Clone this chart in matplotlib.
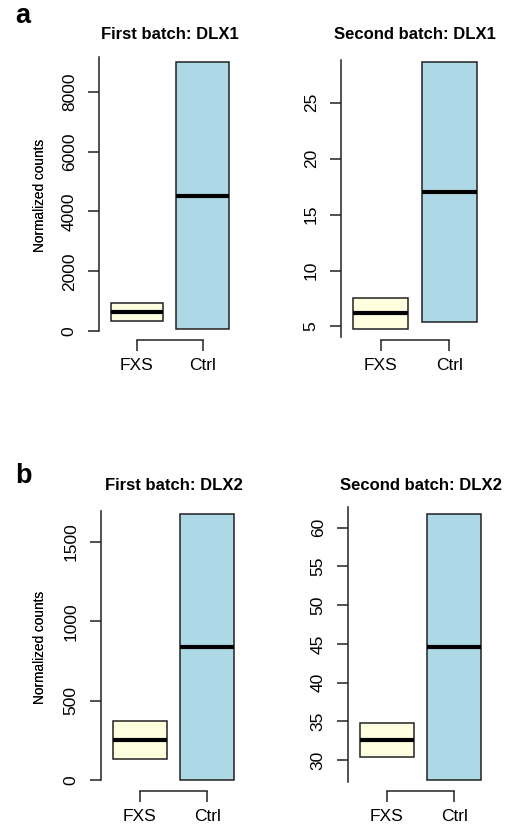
import matplotlib
matplotlib.use('Agg')
import matplotlib.pyplot as plt
from matplotlib.patches import Rectangle

plt.rcParams['font.family'] = ['Liberation Sans', 'DejaVu Sans']

groups = ['FXS', 'Ctrl']
colors = ['#FFFFE0', '#ADD8E6']

# each box: (lower hinge, median, upper hinge) per group
titles = ['First batch: DLX1', 'Second batch: DLX1', 'First batch: DLX2', 'Second batch: DLX2']
dlx1_b1 = [(335, 630, 940), (65, 4530, 9000)]
dlx1_b2 = [(4.75, 6.17, 7.59), (5.36, 17.0, 28.66)]
dlx2_b1 = [(135, 255, 375), (0, 838, 1676)]
dlx2_b2 = [(30.4, 32.6, 34.8), (27.4, 44.6, 61.8)]
yticks = [[0, 2000, 4000, 6000, 8000], [5, 10, 15, 20, 25],
          [0, 500, 1000, 1500], [30, 35, 40, 45, 50, 55, 60]]
spine_bounds = [(0, 9164), (4.1, 28.84), (0, 1695), (27.2, 62.7)]

# axes rectangles in pixels (left, right, top, bottom)
rects = [(99, 240.5, 51, 340), (341, 489, 51, 340),
         (101, 246, 503, 791), (348, 493, 503, 791)]
W, H = 505, 826

fig = plt.figure(figsize=(W / 100, H / 100), dpi=100)

for i, data in enumerate([dlx1_b1, dlx1_b2, dlx2_b1, dlx2_b2]):
    l, r, t, b = rects[i]
    ax = fig.add_axes([l / W, 1 - b / H, (r - l) / W, (b - t) / H])
    lo = min(d[0] for d in data)
    hi = max(d[2] for d in data)
    pad = (hi - lo) * 0.04
    ax.set_ylim(lo - pad, hi + pad)
    ax.set_xlim(0.42, 2.58)
    for j, (q1, med, q3) in enumerate(data):
        x = j + 1
        ax.add_patch(Rectangle((x - 0.4, q1), 0.8, q3 - q1, facecolor=colors[j],
                               edgecolor='#222222', linewidth=1.1))
        ax.plot([x - 0.4, x + 0.4], [med, med], color='black', linewidth=3,
                solid_capstyle='butt')
    for s in ['top', 'right']:
        ax.spines[s].set_visible(False)
    ax.spines['left'].set_bounds(*spine_bounds[i])
    ax.spines['bottom'].set_bounds(1, 2)
    ax.spines['left'].set_color('#222222')
    ax.spines['bottom'].set_color('#222222')
    ax.spines['left'].set_linewidth(1.1)
    ax.spines['bottom'].set_linewidth(1.1)
    ax.set_xticks([1, 2])
    ax.set_xticklabels(groups, fontsize=12.5)
    ax.set_yticks(yticks[i])
    ax.set_yticklabels([str(v) for v in yticks[i]], fontsize=12.5, rotation=90, va='center')
    ax.tick_params(axis='both', length=8, width=1.1, color='#222222', direction='out')
    ax.tick_params(axis='y', pad=8)
    ax.tick_params(axis='x', pad=5)
    ax.set_title(titles[i], fontsize=12, fontweight='bold', pad=9)
    ax.set_ylabel('Normalized counts', fontsize=9.8)
    ax.yaxis.label.set_va('center')
    ax.yaxis.set_label_coords(-(l - 40) / (r - l), 0.5)

fig.text(15 / W, 1 - 23 / H, 'a', fontsize=19.5, fontweight='bold', va='baseline')
fig.text(15 / W, 1 - 483 / H, 'b', fontsize=19.5, fontweight='bold', va='baseline')

fig.savefig('out.png', dpi=100)
